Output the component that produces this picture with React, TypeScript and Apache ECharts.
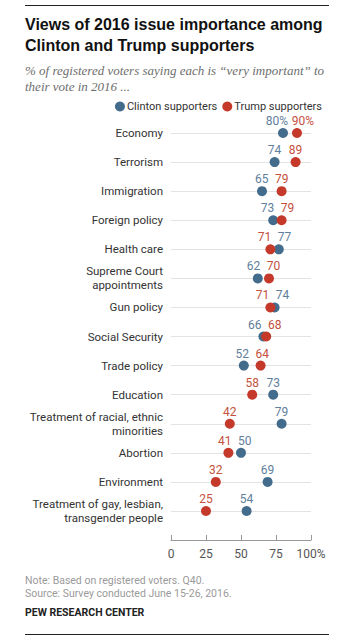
import React, { useEffect, useRef } from "react";
import * as echarts from "echarts";

const categories = [
  "Economy",
  "Terrorism",
  "Immigration",
  "Foreign policy",
  "Health care",
  "Supreme Court\nappointments",
  "Gun policy",
  "Social Security",
  "Trade policy",
  "Education",
  "Treatment of racial, ethnic\nminorities",
  "Abortion",
  "Environment",
  "Treatment of gay, lesbian,\ntransgender people",
];
const clintonValues = [80, 74, 65, 73, 77, 62, 74, 66, 52, 73, 79, 50, 69, 54];
const trumpValues = [90, 89, 79, 79, 71, 70, 71, 68, 64, 58, 42, 41, 32, 25];
const xTicks = [0, 25, 50, 75, 100];

const BLUE = "#436b8c";
const RED = "#c4392a";
const BLUE_LABEL = "#5f809c";
const RED_LABEL = "#c4513d";

export default function App() {
  const ref = useRef<HTMLDivElement>(null);
  useEffect(() => {
    if (!ref.current) return;
    const chart = echarts.init(ref.current, null, { renderer: "svg" });
    const gridLeft = 171;
    const gridRight = 311;
    const pxPerUnit = (gridRight - gridLeft) / 100;

    const offsets = categories.map((_, i) => {
      const c = clintonValues[i];
      const t = trumpValues[i];
      const gap = Math.abs(c - t) * pxPerUnit;
      const minSep = i === 0 ? 26 : 20;
      let shift = 0;
      if (gap < minSep) shift = (minSep - gap) / 2;
      const cOff = c <= t ? -shift : shift;
      const tOff = c <= t ? shift : -shift;
      return { cOff, tOff };
    });

    const makeData = (vals: number[], key: "cOff" | "tOff", color: string) =>
      vals.map((v, i) => ({
        value: [v, i],
        label: { offset: [offsets[i][key], 0], color },
      }));

    const font = "Roboto, 'Liberation Sans', Arial, sans-serif";

    chart.setOption({
      animation: false,
      grid: { left: gridLeft, right: 360 - gridRight, top: 133, bottom: 641 - 511 },
      legend: {
        right: 38,
        top: 101,
        padding: 0,
        icon: "circle",
        itemWidth: 10,
        itemHeight: 10,
        itemGap: 5,
        textStyle: { fontSize: 11, color: "#333", fontFamily: font, padding: [0, 0, 0, -3] },
        data: ["Clinton supporters", "Trump supporters"],
      },
      xAxis: {
        type: "value",
        min: 0,
        max: 100,
        interval: 25,
        offset: 29,
        axisLine: { show: true, lineStyle: { color: "#999" } },
        axisTick: { show: true, inside: true, length: 5, lineStyle: { color: "#999" } },
        splitLine: { show: false },
        axisLabel: {
          margin: 8,
          fontSize: 12,
          color: "#555",
          fontFamily: font,
          customValues: xTicks,
          formatter: (v: number) => (v === 100 ? "100%" : String(v)),
        },
      },
      yAxis: {
        type: "category",
        data: categories,
        inverse: true,
        boundaryGap: false,
        axisLine: { show: false },
        axisTick: { show: false },
        splitLine: { show: true, lineStyle: { color: "#e3e3e3", width: 1 } },
        axisLabel: {
          margin: 8,
          fontSize: 11.5,
          lineHeight: 14,
          color: "#333",
          fontFamily: font,
          align: "right",
        },
      },
      series: [
        {
          name: "Clinton supporters",
          type: "scatter",
          symbolSize: 10,
          itemStyle: { color: BLUE, opacity: 1 },
          label: {
            show: true,
            position: "top",
            distance: 1,
            fontSize: 12,
            fontFamily: font,
            formatter: (p: any) => (p.dataIndex === 0 ? p.value[0] + "%" : String(p.value[0])),
          },
          data: makeData(clintonValues, "cOff", BLUE_LABEL),
        },
        {
          name: "Trump supporters",
          type: "scatter",
          symbolSize: 10,
          itemStyle: { color: RED, opacity: 1 },
          label: {
            show: true,
            position: "top",
            distance: 1,
            fontSize: 12,
            fontFamily: font,
            formatter: (p: any) => (p.dataIndex === 0 ? p.value[0] + "%" : String(p.value[0])),
          },
          data: makeData(trumpValues, "tOff", RED_LABEL),
        },
      ],
      graphic: [
        { type: "line", shape: { x1: 25, y1: 5.5, x2: 329, y2: 5.5 }, style: { stroke: "#222", lineWidth: 1 } },
        {
          type: "text",
          x: 25,
          y: 14,
          style: {
            text: "Views of 2016 issue importance among\nClinton and Trump supporters",
            font: "bold 16px 'Liberation Sans', Arial, sans-serif",
            lineHeight: 21,
            fill: "#111",
            textVerticalAlign: "top",
          },
        },
        {
          type: "text",
          x: 25,
          y: 62,
          style: {
            text: "% of registered voters saying each is \u201cvery important\u201d to\ntheir vote in 2016 ...",
            font: "italic 13px 'Liberation Serif', serif",
            lineHeight: 16,
            fill: "#6e6e6e",
            textVerticalAlign: "top",
          },
        },
        {
          type: "text",
          x: 25,
          y: 574,
          style: {
            text: "Note: Based on registered voters. Q40.\nSource: Survey conducted June 15-26, 2016.",
            font: "10.5px Roboto, 'Liberation Sans', Arial, sans-serif",
            lineHeight: 13,
            fill: "#9a9a9a",
            textVerticalAlign: "top",
          },
        },
        {
          type: "text",
          x: 25,
          y: 607,
          style: {
            text: "PEW RESEARCH CENTER",
            font: "bold 10.5px Roboto, 'Liberation Sans', Arial, sans-serif",
            fill: "#222",
            textVerticalAlign: "top",
          },
        },
        { type: "line", shape: { x1: 25, y1: 634.5, x2: 329, y2: 634.5 }, style: { stroke: "#222", lineWidth: 1 } },
      ],
    });
    return () => chart.dispose();
  }, []);
  return <div ref={ref} style={{ width: 360, height: 641, position: "absolute", left: 0, top: 0 }} />;
}
